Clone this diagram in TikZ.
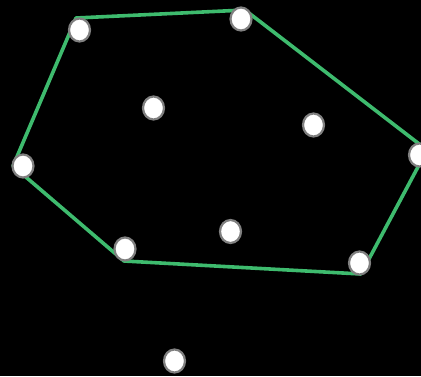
\documentclass[tikz,border=0pt]{standalone}
\usepackage{tikz}
\definecolor{hullgreen}{RGB}{62,187,110}
\definecolor{rimgray}{RGB}{128,128,128}
\tikzset{
  every picture/.style={line join=round, line cap=round},
  pt/.style={ellipse, draw=rimgray, line width=2.2pt, fill=white,
    minimum width=21pt, minimum height=23pt, inner sep=0pt},
  hull/.style={draw=hullgreen, line width=3.6pt},
}
\usetikzlibrary{shapes.geometric}
\begin{document}
\begin{tikzpicture}[x=1pt,y=-1pt]
\fill[black](0,0)rectangle(421,376);
\useasboundingbox(0,0)rectangle(421,376);
\clip(0,0)rectangle(421,376);
% hull corners
\coordinate(h1)at(76,18);
\coordinate(h2)at(245,10);
\coordinate(h3)at(427,150);
\coordinate(h4)at(361,274);
\coordinate(h5)at(124,261);
\coordinate(h6)at(13,166);
\draw[hull](h1)--(h2)--(h3)--(h4)--(h5)--(h6)--cycle;
% points
\node[pt](p1)at(79.5,30){};
\node[pt](p2)at(241,19){};
\node[pt](p3)at(153.5,108){};
\node[pt](p4)at(313.5,125){};
\node[pt](p5)at(419.5,155){};
\node[pt](p6)at(23,166){};
\node[pt](p7)at(125,249){};
\node[pt](p8)at(230.5,231.5){};
\node[pt](p9)at(359.5,263){};
\node[pt](p10)at(174.5,361){};
\end{tikzpicture}
\end{document}
